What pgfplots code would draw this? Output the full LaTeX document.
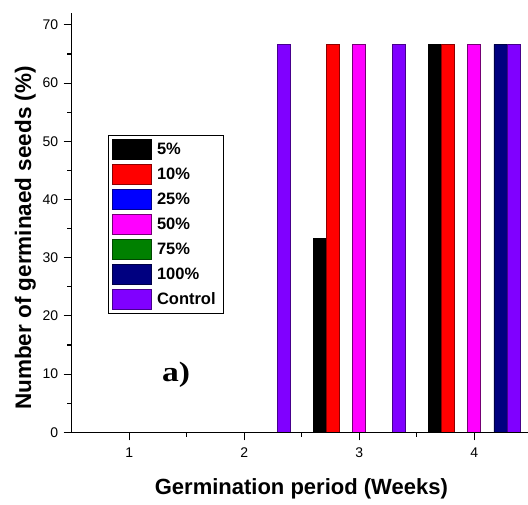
\documentclass[border=0pt]{standalone}
\usepackage{fontspec}
\setmainfont{Liberation Sans}
\newfontfamily\panelfont{Liberation Serif}[FakeStretch=1.2]
\usepackage{pgfplots}
\usepackage{pgfplotstable}
\pgfplotsset{compat=1.18}

\definecolor{cfive}{HTML}{000000}
\definecolor{cten}{HTML}{FF0000}
\definecolor{ctwentyfive}{HTML}{0000FF}
\definecolor{cfifty}{HTML}{FF00FF}
\definecolor{cseventyfive}{HTML}{008000}
\definecolor{chundred}{HTML}{000080}
\definecolor{ccontrol}{HTML}{8000FF}

% Germinated seeds (%) per week and treatment
\pgfplotstableread{
week p5    p10   p25 p50   p75 p100  ctrl
1    0     0     0   0     0   0     0
2    0     0     0   0     0   0     66.67
3    33.33 66.67 0   66.67 0   0     66.67
4    66.67 66.67 0   66.67 0   66.67 66.67
}\germ

\pgfplotsset{
  swatch/.style={
    legend image code/.code={\draw[##1, line width=0.8bp] (0bp,-10bp) rectangle (39bp,10bp);}
  },
  bars/.style n args={2}{fill=#1, draw=#2, line width=0.8bp, swatch},
}

\begin{document}
\begin{tikzpicture}
\begin{axis}[
  scale only axis,
  width=456.55bp, height=419bp,
  xmin=0.5, xmax=4.47, ymin=0, ymax=72,
  axis x line=bottom, axis y line=left,
  axis line style={-, line width=1.1bp},
  axis on top,
  xtick={1,2,3,4}, ytick={0,10,...,70},
  minor x tick num=1, minor y tick num=1,
  tick align=outside,
  major tick length=8bp, minor tick length=4.5bp,
  every tick/.style={black, line width=1.1bp},
  tick label style={font=\fontsize{14bp}{16bp}\selectfont},
  xticklabel style={yshift=-4bp},
  yticklabel style={xshift=-2bp},
  /pgf/number format/assume math mode=true,
  ybar, bar width=13.14bp,
  xlabel={Germination period (Weeks)},
  ylabel={Number of germinaed seeds (\%)},
  xlabel style={at={(axis description cs:0.503,-0.1496)}, anchor=base,
    font=\bfseries\fontsize{22bp}{26bp}\selectfont},
  ylabel style={at={(axis description cs:-0.0891,0.4637)}, anchor=base,
    font=\bfseries\fontsize{22.5bp}{26bp}\selectfont},
  legend style={at={(axis description cs:0.0802,0.7095)}, anchor=north west,
    draw=black, line width=0.8bp, inner sep=3.5bp, row sep=4.2bp,
    column sep=3bp,
    font=\bfseries\fontsize{16.5bp}{18bp}\selectfont,
    cells={anchor=west}},
  legend cell align=left,
]
\addplot[bars={cfive}{black}, bar shift=-39.43bp] table[x=week, y=p5] {\germ};
\addplot[bars={cten}{cten!55!black}, bar shift=-26.29bp] table[x=week, y=p10] {\germ};
\addplot[bars={ctwentyfive}{ctwentyfive!55!black}, bar shift=-13.14bp] table[x=week, y=p25] {\germ};
\addplot[bars={cfifty}{cfifty!45!black}, bar shift=0bp] table[x=week, y=p50] {\germ};
\addplot[bars={cseventyfive}{cseventyfive!55!black}, bar shift=13.14bp] table[x=week, y=p75] {\germ};
\addplot[bars={chundred}{chundred!55!black}, bar shift=26.29bp] table[x=week, y=p100] {\germ};
\addplot[bars={ccontrol}{ccontrol!55!black}, bar shift=39.43bp] table[x=week, y=ctrl] {\germ};
\legend{5\%, 10\%, 25\%, 50\%, 75\%, 100\%, \makebox[61bp][l]{Control}}
\node[font=\panelfont\bfseries\fontsize{28bp}{30bp}\selectfont] at (axis cs:1.407,9.85) {a)};
\end{axis}
\pgfresetboundingbox
\path[use as bounding box] (-71.7bp,-72.7bp) rectangle (456.3bp,432.3bp);
\end{tikzpicture}
\end{document}
